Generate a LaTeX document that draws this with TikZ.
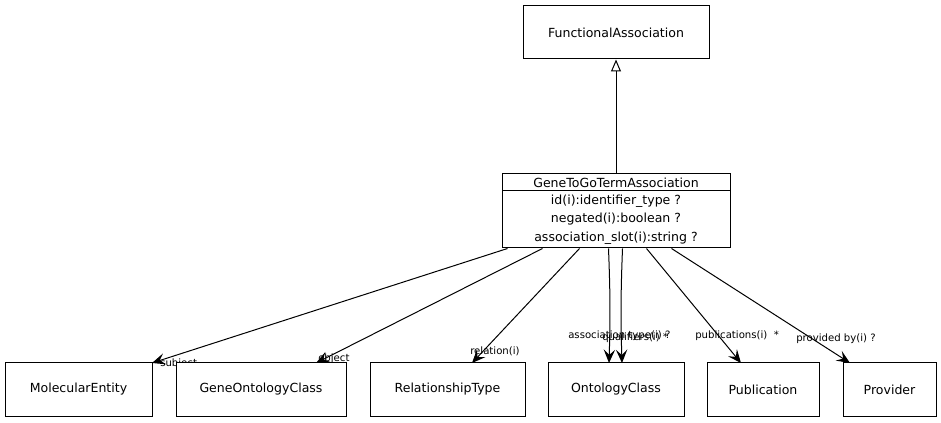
\documentclass[tikz,border=0pt]{standalone}
\usepackage{fontspec}
\setmainfont{DejaVu Sans}
\usetikzlibrary{arrows.meta,calc}

\begin{document}
\begin{tikzpicture}[x=0.75pt,y=0.75pt,yscale=-1,xscale=1,
  classbox/.style={draw,fill=white,line width=0.75pt,inner sep=0pt,font=\fontsize{9.4}{11}\selectfont},
  assoc/.style={line width=0.75pt,-{Stealth[length=10pt,width=8.5pt,inset=4pt]}},
  rolelabel/.style={anchor=west,inner sep=0.75pt,font=\fontsize{7.6}{9}\selectfont}]
\useasboundingbox (0,0) rectangle (941,423);

%Shape: parent class
\node [classbox,minimum width=139.5pt,minimum height=39.75pt] (fa) at (616,32.5) {FunctionalAssociation};
%Shape: association class
\node [classbox,minimum width=171pt,minimum height=12.75pt] (gtghead) at (616,182.5) {GeneToGoTermAssociation};
\node [classbox,minimum width=171pt,minimum height=42.75pt,align=center,font=\fontsize{9.4}{13.9}\selectfont] (gtgbody) at (616,219.5)
  {id(i):identifier\_type ?\\negated(i):boolean ?\\association\_slot(i):string ?};

%Straight Lines: inheritance
\draw [line width=0.75pt,-{Triangle[open,length=9pt,width=7.5pt]}] (gtghead.north) -- (fa.south);

%Straight Lines: slots
\draw [assoc] ($(gtgbody.south west)+(6,0)$) -- (152,363) coordinate (subjend);
\draw [assoc] ($(gtgbody.south west)+(41,0)$) -- (316,363) coordinate (objend);
\draw [assoc] ($(gtgbody.south west)+(78,0)$) -- (472,363) coordinate (relend);
\draw [assoc] ($(gtgbody.south west)+(107,0)$) to[bend right=2] (609,363) coordinate (typeend);
\draw [assoc] ($(gtgbody.south west)+(121,0)$) to[bend left=2] (622,363) coordinate (qualend);
\draw [assoc] ($(gtgbody.south west)+(145,0)$) -- (741,363) coordinate (pubend);
\draw [assoc] ($(gtgbody.south west)+(170,0)$) -- (850,363) coordinate (provend);

% Text Node
\node [rolelabel] (subjlbl) at (159,364) {subject};
\node [rolelabel] (objlbl) at (317,359) {object};
\node [rolelabel] (rellbl) at (469,351) {relation(i)};
\node [rolelabel] (typelbl) at (567,336) {association type(i) ?};
\node [rolelabel] (quallbl) at (601,338) {qualifiers(i) *};
\node [rolelabel] (publbl) at (694,336) {publications(i) \ *};
\node [rolelabel] (provlbl) at (795,339) {provided by(i) ?};

%Shape: target classes
\node [classbox,minimum width=110.25pt,minimum height=39.75pt] (me) at (78.5,389.5) {MolecularEntity};
\node [classbox,minimum width=127.5pt,minimum height=39.75pt] (goc) at (261,389.5) {GeneOntologyClass};
\node [classbox,minimum width=116.25pt,minimum height=39.75pt] (rt) at (447.5,389.5) {RelationshipType};
\node [classbox,minimum width=102pt,minimum height=39.75pt] (oc) at (616,389.5) {OntologyClass};
\node [classbox,minimum width=84pt,minimum height=39.75pt] (pub) at (763,389.5) {Publication};
\node [classbox,minimum width=69.75pt,minimum height=39.75pt] (prov) at (889.5,389.5) {Provider};

\end{tikzpicture}
\end{document}
